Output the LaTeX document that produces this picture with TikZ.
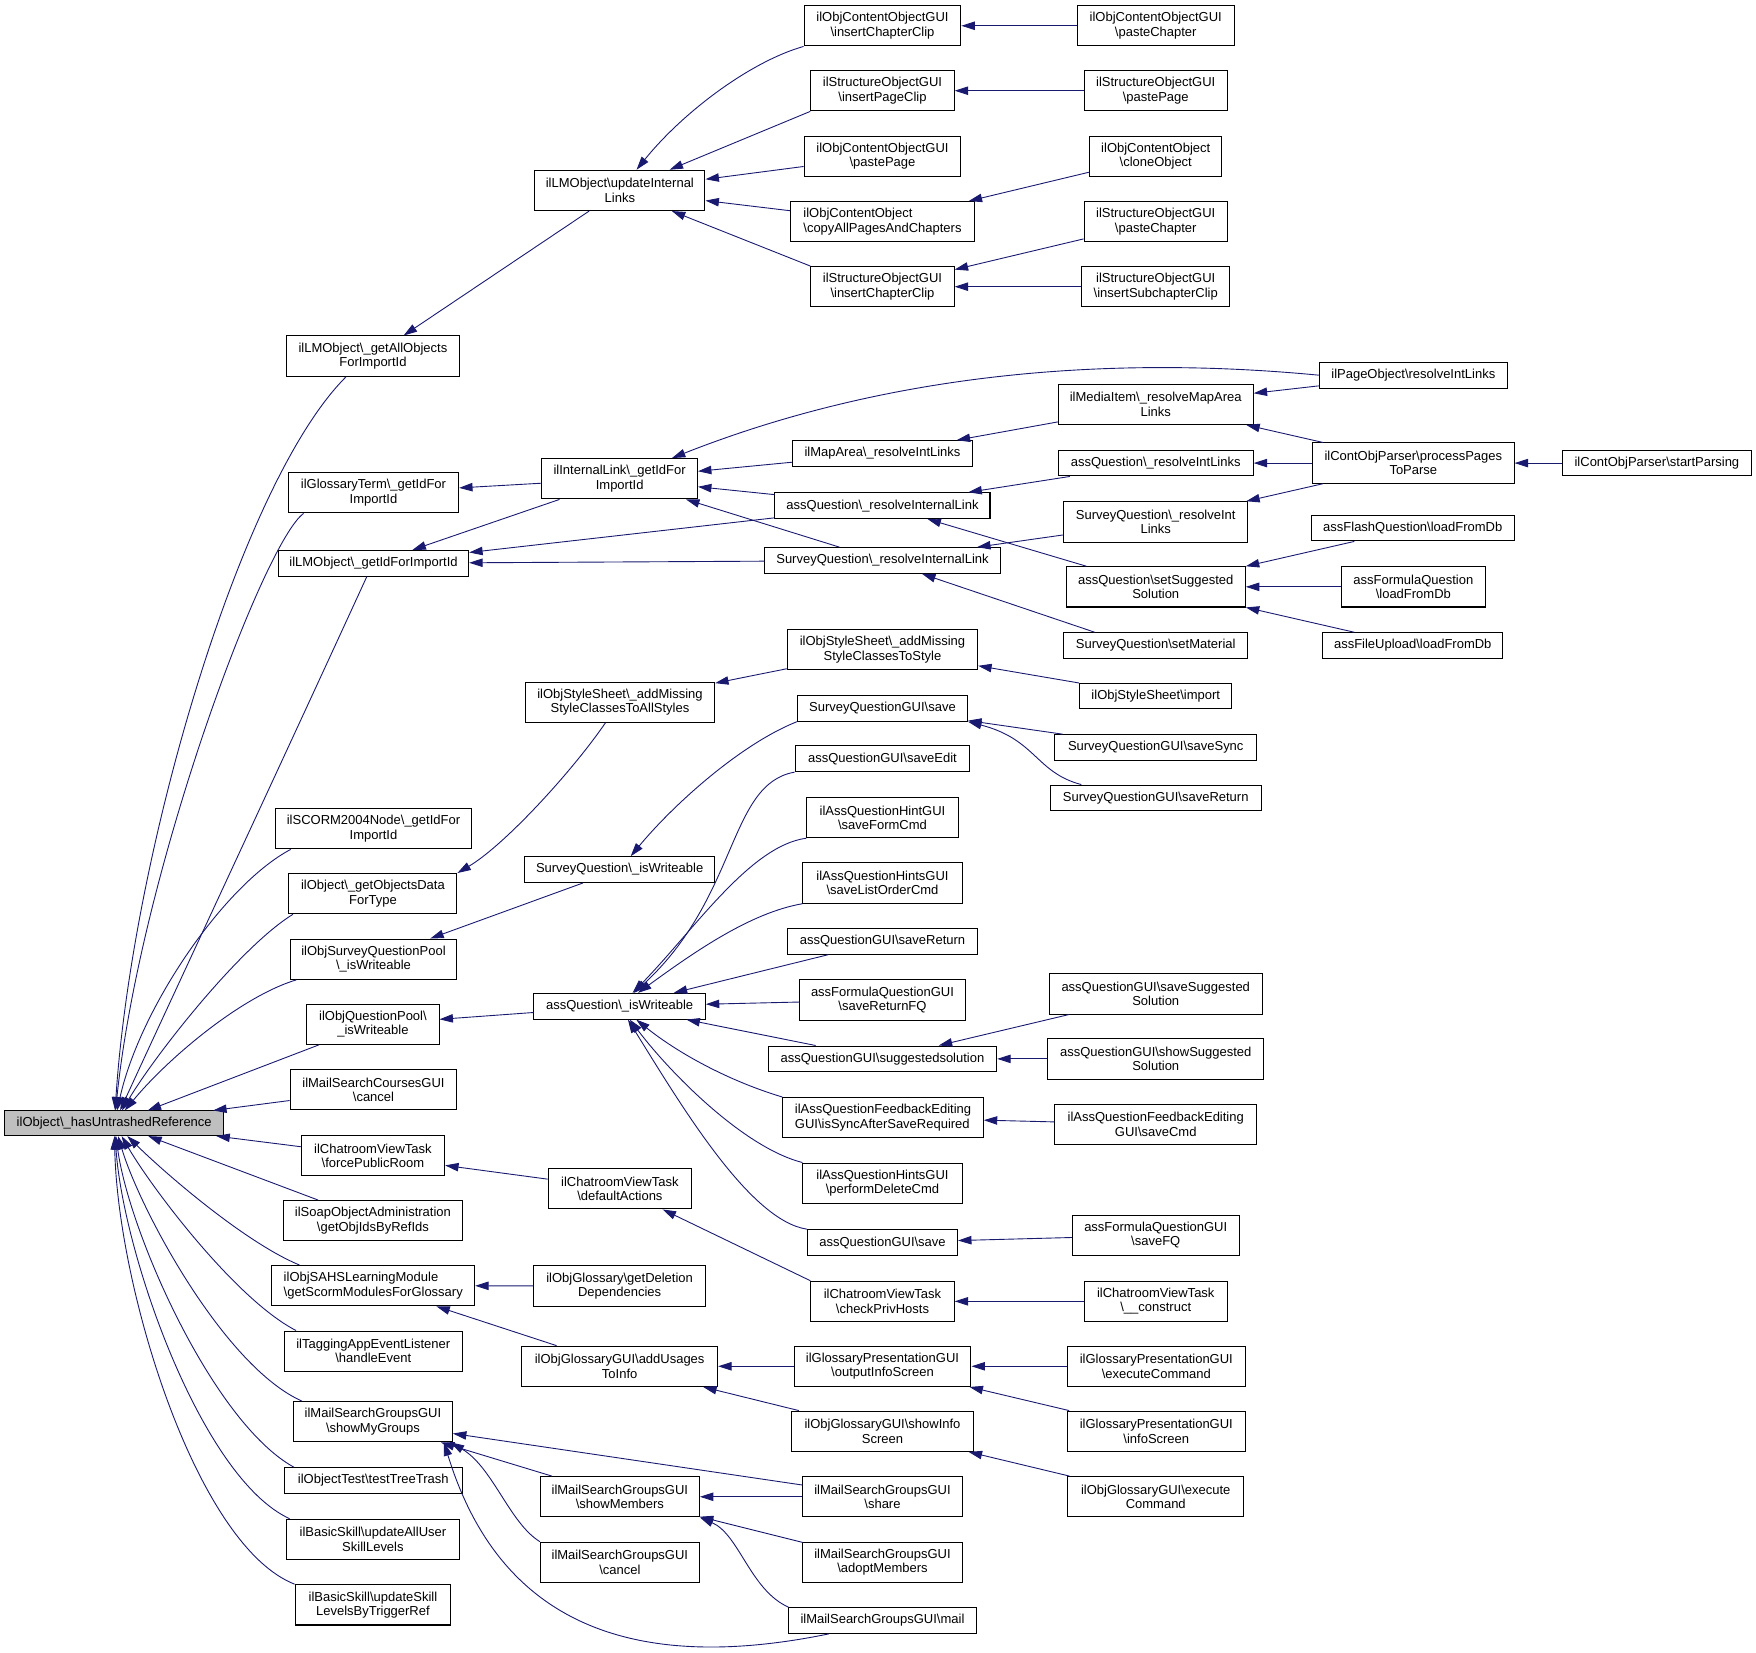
\documentclass[tikz,border=0pt]{standalone}
\usepackage{fontspec}
\setmainfont{Liberation Sans}
\usepackage{xcolor}
\usepackage{tikz}
\usetikzlibrary{arrows.meta}
\definecolor{edgeblue}{HTML}{191970}
\definecolor{rootgray}{HTML}{BFBFBF}
\newcommand{\bksl}{\textbackslash}

\begin{document}
\begin{tikzpicture}[x=1pt, y=-1pt,
    fn/.style={draw=black, line width=0.9pt, fill=white, inner sep=0pt, align=center,
        minimum height=23pt, font=\fontsize{11.6}{12.8}\selectfont},
    fnii/.style={fn, minimum height=36pt},
    call/.style={draw=edgeblue, line width=0.8pt, -{Triangle[length=12pt,width=7.5pt]}}]
    \useasboundingbox (0,0) rectangle (1568,1476);

    % Root function
    \node[fn, fill=rootgray, minimum width=196pt, minimum height=22pt] (root) at (102,1003) {ilObject\bksl\_hasUntrashedReference};

    % Direct callers
    \node[fnii, minimum width=155pt] (getAllObj) at (333,318) {ilLMObject\bksl\_getAllObjects\\ForImportId};
    \node[fnii, minimum width=152pt] (glossTerm) at (333.5,440) {ilGlossaryTerm\bksl\_getIdFor\\ImportId};
    \node[fn, minimum width=170pt] (lmGetId) at (333.5,503) {ilLMObject\bksl\_getIdForImportId};
    \node[fnii, minimum width=175pt] (scorm) at (333.5,740) {ilSCORM2004Node\bksl\_getIdFor\\ImportId};
    \node[fnii, minimum width=150pt] (objData) at (333,798) {ilObject\bksl\_getObjectsData\\ForType};
    \node[fnii, minimum width=149pt] (surveyPool) at (333.5,856.5) {ilObjSurveyQuestionPool\\\bksl\_isWriteable};
    \node[fnii, minimum width=118pt] (questionPool) at (333,914.5) {ilObjQuestionPool\bksl\\\_isWriteable};
    \node[fnii, minimum width=149pt] (mailCourses) at (333.5,973) {ilMailSearchCoursesGUI\\\bksl cancel};
    \node[fnii, minimum width=128pt] (chatForce) at (333,1032) {ilChatroomViewTask\\\bksl forcePublicRoom};
    \node[fnii, minimum width=160pt] (soap) at (333,1090) {ilSoapObjectAdministration\\\bksl getObjIdsByRefIds};
    \node[fnii, minimum width=181pt, align=left] (sahs) at (333.3,1148) {ilObjSAHSLearningModule\\\bksl getScormModulesForGlossary};
    \node[fnii, minimum width=159pt] (tagging) at (333.3,1206.5) {ilTaggingAppEventListener\\\bksl handleEvent};
    \node[fnii, minimum width=142pt] (showMyGroups) at (333,1269.5) {ilMailSearchGroupsGUI\\\bksl showMyGroups};
    \node[fn, minimum width=159pt] (objTest) at (333.3,1322) {ilObjectTest\bksl testTreeTrash};
    \node[fnii, minimum width=154pt] (skillAll) at (333,1374.5) {ilBasicSkill\bksl updateAllUser\\SkillLevels};
    \node[fnii, minimum width=139pt] (skillTrigger) at (333,1433) {ilBasicSkill\bksl updateSkill\\LevelsByTriggerRef};

    % Second level
    \node[fnii, minimum width=152pt] (updLinks) at (553.5,170) {ilLMObject\bksl updateInternal\\Links};
    \node[fnii, minimum width=139pt] (internalLink) at (553.3,427.5) {ilInternalLink\bksl\_getIdFor\\ImportId};
    \node[fnii, minimum width=169pt] (allStyles) at (553.6,627) {ilObjStyleSheet\bksl\_addMissing\\StyleClassesToAllStyles};
    \node[fn, minimum width=170pt] (svIsW) at (553.3,776.5) {SurveyQuestion\bksl\_isWriteable};
    \node[fn, minimum width=153pt] (assIsW) at (553.3,898.5) {assQuestion\bksl\_isWriteable};
    \node[fnii, minimum width=128pt] (defaultActions) at (553.5,1061.5) {ilChatroomViewTask\\\bksl defaultActions};
    \node[fnii, minimum width=153pt] (getDeletion) at (553.3,1148.3) {ilObjGlossary\bksl getDeletion\\Dependencies};
    \node[fnii, minimum width=175pt] (addUsages) at (553.3,1220) {ilObjGlossaryGUI\bksl addUsages\\ToInfo};
    \node[fnii, minimum width=142pt] (showMembers) at (553.5,1336.5) {ilMailSearchGroupsGUI\\\bksl showMembers};
    \node[fnii, minimum width=142pt] (groupsCancel) at (553.5,1395) {ilMailSearchGroupsGUI\\\bksl cancel};

    % Third level
    \node[fnii, minimum width=140pt] (insChapClip) at (788,23) {ilObjContentObjectGUI\\\bksl insertChapterClip};
    \node[fnii, minimum width=128pt] (insPageClip) at (788,81) {ilStructureObjectGUI\\\bksl insertPageClip};
    \node[fnii, minimum width=140pt] (coPastePage) at (788,139.5) {ilObjContentObjectGUI\\\bksl pastePage};
    \node[fnii, minimum width=164pt, align=left] (copyAll) at (788,198) {ilObjContentObject\\\bksl copyAllPagesAndChapters};
    \node[fnii, minimum width=128pt] (stInsChapClip) at (788,256) {ilStructureObjectGUI\\\bksl insertChapterClip};
    \node[fn, minimum width=160pt] (mapArea) at (788,405) {ilMapArea\bksl\_resolveIntLinks};
    \node[fn, minimum width=192pt] (assResolveLink) at (788,451.5) {assQuestion\bksl\_resolveInternalLink};
    \node[fn, minimum width=210pt] (svResolveLink) at (788,500.5) {SurveyQuestion\bksl\_resolveInternalLink};
    \node[fnii, minimum width=170pt] (styleToStyle) at (788,580) {ilObjStyleSheet\bksl\_addMissing\\StyleClassesToStyle};
    \node[fn, minimum width=152pt] (svGuiSave) at (788,632.5) {SurveyQuestionGUI\bksl save};
    \node[fn, minimum width=156pt] (saveEdit) at (788,677.5) {assQuestionGUI\bksl saveEdit};
    \node[fnii, minimum width=135pt] (saveFormCmd) at (788,730) {ilAssQuestionHintGUI\\\bksl saveFormCmd};
    \node[fnii, minimum width=142pt] (saveListOrder) at (788,788.5) {ilAssQuestionHintsGUI\\\bksl saveListOrderCmd};
    \node[fn, minimum width=170pt] (saveReturn) at (788,840.5) {assQuestionGUI\bksl saveReturn};
    \node[fnii, minimum width=148pt] (saveReturnFQ) at (788,893) {assFormulaQuestionGUI\\\bksl saveReturnFQ};
    \node[fn, minimum width=204pt] (suggested) at (788,945.5) {assQuestionGUI\bksl suggestedsolution};
    \node[fnii, minimum width=179pt, align=left] (isSync) at (788.5,998) {ilAssQuestionFeedbackEditing\\GUI\bksl isSyncAfterSaveRequired};
    \node[fnii, minimum width=142pt] (performDelete) at (788,1056.5) {ilAssQuestionHintsGUI\\\bksl performDeleteCmd};
    \node[fn, minimum width=134pt] (guiSave) at (788,1109.5) {assQuestionGUI\bksl save};
    \node[fnii, minimum width=128pt] (checkPriv) at (788,1162) {ilChatroomViewTask\\\bksl checkPrivHosts};
    \node[fnii, minimum width=158pt] (outputInfo) at (788,1220) {ilGlossaryPresentationGUI\\\bksl outputInfoScreen};
    \node[fnii, minimum width=162pt] (showInfo) at (788,1278) {ilObjGlossaryGUI\bksl showInfo\\Screen};
    \node[fnii, minimum width=142pt] (share) at (788,1336.5) {ilMailSearchGroupsGUI\\\bksl share};
    \node[fnii, minimum width=142pt] (adopt) at (788,1395) {ilMailSearchGroupsGUI\\\bksl adoptMembers};
    \node[fn, minimum width=167pt] (mail) at (788,1447) {ilMailSearchGroupsGUI\bksl mail};

    % Fourth level
    \node[fnii, minimum width=140pt] (pasteChapter) at (1032,23) {ilObjContentObjectGUI\\\bksl pasteChapter};
    \node[fnii, minimum width=128pt] (stPastePage) at (1032,81) {ilStructureObjectGUI\\\bksl pastePage};
    \node[fnii, minimum width=118pt] (cloneObj) at (1032,139.5) {ilObjContentObject\\\bksl cloneObject};
    \node[fnii, minimum width=128pt] (stPasteChapter) at (1032,198) {ilStructureObjectGUI\\\bksl pasteChapter};
    \node[fnii, minimum width=132pt] (insSubchap) at (1032,256) {ilStructureObjectGUI\\\bksl insertSubchapterClip};
    \node[fnii, minimum width=174pt] (mediaItem) at (1032,361) {ilMediaItem\bksl\_resolveMapArea\\Links};
    \node[fn, minimum width=174pt] (assResolveInt) at (1032,413.5) {assQuestion\bksl\_resolveIntLinks};
    \node[fnii, minimum width=164pt] (svResolveInt) at (1032,466) {SurveyQuestion\bksl\_resolveInt\\Links};
    \node[fnii, minimum width=160pt] (setSuggested) at (1032,524) {assQuestion\bksl setSuggested\\Solution};
    \node[fn, minimum width=164pt] (setMaterial) at (1032,576.5) {SurveyQuestion\bksl setMaterial};
    \node[fn, minimum width=136pt] (ssImport) at (1032,621.5) {ilObjStyleSheet\bksl import};
    \node[fn, minimum width=180pt] (saveSync) at (1032,667.5) {SurveyQuestionGUI\bksl saveSync};
    \node[fn, minimum width=188pt] (svSaveReturn) at (1032,712.5) {SurveyQuestionGUI\bksl saveReturn};
    \node[fnii, minimum width=190pt] (saveSuggested) at (1032,887.5) {assQuestionGUI\bksl saveSuggested\\Solution};
    \node[fnii, minimum width=193pt] (showSuggested) at (1032,945.5) {assQuestionGUI\bksl showSuggested\\Solution};
    \node[fnii, minimum width=180pt] (feedbackSaveCmd) at (1032,1004) {ilAssQuestionFeedbackEditing\\GUI\bksl saveCmd};
    \node[fnii, minimum width=149pt] (saveFQ) at (1032,1103) {assFormulaQuestionGUI\\\bksl saveFQ};
    \node[fnii, minimum width=128pt] (construct) at (1032,1162) {ilChatroomViewTask\\\bksl\_\_construct};
    \node[fnii, minimum width=159pt] (gpExecute) at (1032.5,1220) {ilGlossaryPresentationGUI\\\bksl executeCommand};
    \node[fnii, minimum width=159pt] (gpInfoScreen) at (1032.5,1278) {ilGlossaryPresentationGUI\\\bksl infoScreen};
    \node[fnii, minimum width=157pt] (ogExecute) at (1032,1336.5) {ilObjGlossaryGUI\bksl execute\\Command};

    % Fifth and sixth level
    \node[fn, minimum width=168pt] (pageObject) at (1262,335) {ilPageObject\bksl resolveIntLinks};
    \node[fnii, minimum width=180pt] (processPages) at (1262,413.5) {ilContObjParser\bksl processPages\\ToParse};
    \node[fn, minimum width=181pt] (flashLoad) at (1261.5,471.5) {assFlashQuestion\bksl loadFromDb};
    \node[fnii, minimum width=128pt] (formulaLoad) at (1262,524) {assFormulaQuestion\\\bksl loadFromDb};
    \node[fn, minimum width=161pt] (fileUploadLoad) at (1261.5,576.5) {assFileUpload\bksl loadFromDb};
    \node[fn, minimum width=169pt] (startParsing) at (1479.5,413.5) {ilContObjParser\bksl startParsing};

    % Calls into the root
    \draw[call] ([xshift=-24pt]getAllObj.south) .. controls (215,430) and (118,760) .. (root);
    \draw[call] ([xshift=14pt]glossTerm.south west) .. controls (235,485) and (125,780) .. (root);
    \draw[call] ([xshift=-6pt]lmGetId.south) .. controls (250,684) and (140,920) .. (root);
    \draw[call] ([xshift=14pt]scorm.south west) .. controls (200,790) and (125,900) .. (root);
    \draw[call] ([xshift=4pt]objData.south west) .. controls (215,845) and (140,940) .. (root);
    \draw[call] ([xshift=6pt]surveyPool.south west) .. controls (215,890) and (150,945) .. (root);
    \draw[call] (questionPool) -- (root);
    \draw[call] (mailCourses) -- (root);
    \draw[call] (chatForce) -- (root);
    \draw[call] (soap) -- (root);
    \draw[call] ([xshift=25pt]sahs.north west) .. controls (220,1110) and (150,1050) .. (root);
    \draw[call] ([xshift=11pt]tagging.north west) .. controls (210,1160) and (135,1060) .. (root);
    \draw[call] ([xshift=8pt]showMyGroups.north west) .. controls (200,1220) and (125,1080) .. (root);
    \draw[call] ([xshift=9pt]objTest.north west) .. controls (190,1270) and (115,1100) .. (root);
    \draw[call] ([xshift=3pt]skillAll.north west) .. controls (180,1320) and (110,1120) .. (root);
    \draw[call] (skillTrigger.north west) .. controls (175,1380) and (105,1150) .. (root);

    % Second level calls
    \draw[call] (updLinks) -- (getAllObj);
    \draw[call] (internalLink) -- (glossTerm);
    \draw[call] (internalLink) -- (lmGetId);
    \draw[call] (assResolveLink) -- (lmGetId);
    \draw[call] (svResolveLink) -- (lmGetId);
    \draw[call] ([xshift=-13pt]allStyles.south) .. controls (510,690) and (450,755) .. (objData.north east);
    \draw[call] (svIsW) -- (surveyPool);
    \draw[call] (assIsW) -- (questionPool);
    \draw[call] (defaultActions) -- (chatForce);
    \draw[call] (getDeletion) -- (sahs);
    \draw[call] (addUsages) -- (sahs);
    \draw[call] (share) -- (showMyGroups);
    \draw[call] (showMembers) -- (showMyGroups);
    \draw[call] (groupsCancel.north west) .. controls (455,1360) and (440,1310) .. ([xshift=-2pt]showMyGroups.south east);
    \draw[call] ([xshift=-48pt]mail.south) .. controls (540,1500) and (440,1430) .. ([xshift=-8pt]showMyGroups.south east);

    % Third level calls
    \draw[call] (insChapClip.south west) .. controls (670,55) and (610,100) .. (updLinks);
    \draw[call] (insPageClip.south west) -- (updLinks);
    \draw[call] (coPastePage) -- (updLinks);
    \draw[call] (copyAll) -- (updLinks);
    \draw[call] (stInsChapClip.north west) -- (updLinks);
    \draw[call] (pageObject.west) .. controls (1000,318) and (800,330) .. (internalLink);
    \draw[call] (mapArea) -- (internalLink);
    \draw[call] (assResolveLink) -- (internalLink);
    \draw[call] (svResolveLink) -- (internalLink);
    \draw[call] (styleToStyle) -- (allStyles);
    \draw[call] (svGuiSave.south west) .. controls (660,665) and (600,720) .. (svIsW);
    \draw[call] (saveEdit.south west) .. controls (650,700) and (660,800) .. (assIsW);
    \draw[call] (saveFormCmd.south west) .. controls (670,755) and (620,830) .. (assIsW);
    \draw[call] (saveListOrder.south west) .. controls (670,815) and (620,850) .. (assIsW);
    \draw[call] (saveReturn) -- (assIsW);
    \draw[call] (saveReturnFQ) -- (assIsW);
    \draw[call] (suggested) -- (assIsW);
    \draw[call] (isSync.north west) .. controls (650,965) and (605,940) .. (assIsW);
    \draw[call] (performDelete.north west) .. controls (665,1025) and (600,960) .. (assIsW);
    \draw[call] (guiSave.north west) .. controls (670,1090) and (610,990) .. (assIsW);
    \draw[call] (checkPriv.north west) -- (defaultActions);
    \draw[call] (outputInfo) -- (addUsages);
    \draw[call] (showInfo) -- (addUsages);
    \draw[call] (share) -- (showMembers);
    \draw[call] (adopt) -- (showMembers);
    \draw[call] (mail.north west) .. controls (670,1420) and (660,1370) .. (showMembers.south east);

    % Fourth level calls
    \draw[call] (pasteChapter) -- (insChapClip);
    \draw[call] (stPastePage) -- (insPageClip);
    \draw[call] (cloneObj) -- (copyAll);
    \draw[call] (stPasteChapter) -- (stInsChapClip);
    \draw[call] (insSubchap) -- (stInsChapClip);
    \draw[call] (mediaItem) -- (mapArea);
    \draw[call] (assResolveInt) -- (assResolveLink);
    \draw[call] (setSuggested) -- (assResolveLink);
    \draw[call] (svResolveInt) -- (svResolveLink);
    \draw[call] ([xshift=28pt]setMaterial.north west) -- (svResolveLink);
    \draw[call] (ssImport) -- (styleToStyle);
    \draw[call] (saveSync) -- (svGuiSave);
    \draw[call] ([xshift=28pt]svSaveReturn.north west) .. controls (925,690) and (925,660) .. (svGuiSave.south east);
    \draw[call] (saveSuggested) -- (suggested);
    \draw[call] (showSuggested) -- (suggested);
    \draw[call] (feedbackSaveCmd) -- (isSync);
    \draw[call] (saveFQ) -- (guiSave);
    \draw[call] (construct) -- (checkPriv);
    \draw[call] (gpExecute) -- (outputInfo);
    \draw[call] (gpInfoScreen) -- (outputInfo);
    \draw[call] (ogExecute) -- (showInfo);

    % Fifth and sixth level calls
    \draw[call] (pageObject) -- (mediaItem);
    \draw[call] (processPages) -- (mediaItem);
    \draw[call] (processPages) -- (assResolveInt);
    \draw[call] (processPages) -- (svResolveInt);
    \draw[call] (flashLoad) -- (setSuggested);
    \draw[call] (formulaLoad) -- (setSuggested);
    \draw[call] (fileUploadLoad) -- (setSuggested);
    \draw[call] (startParsing) -- (processPages);
\end{tikzpicture}
\end{document}
